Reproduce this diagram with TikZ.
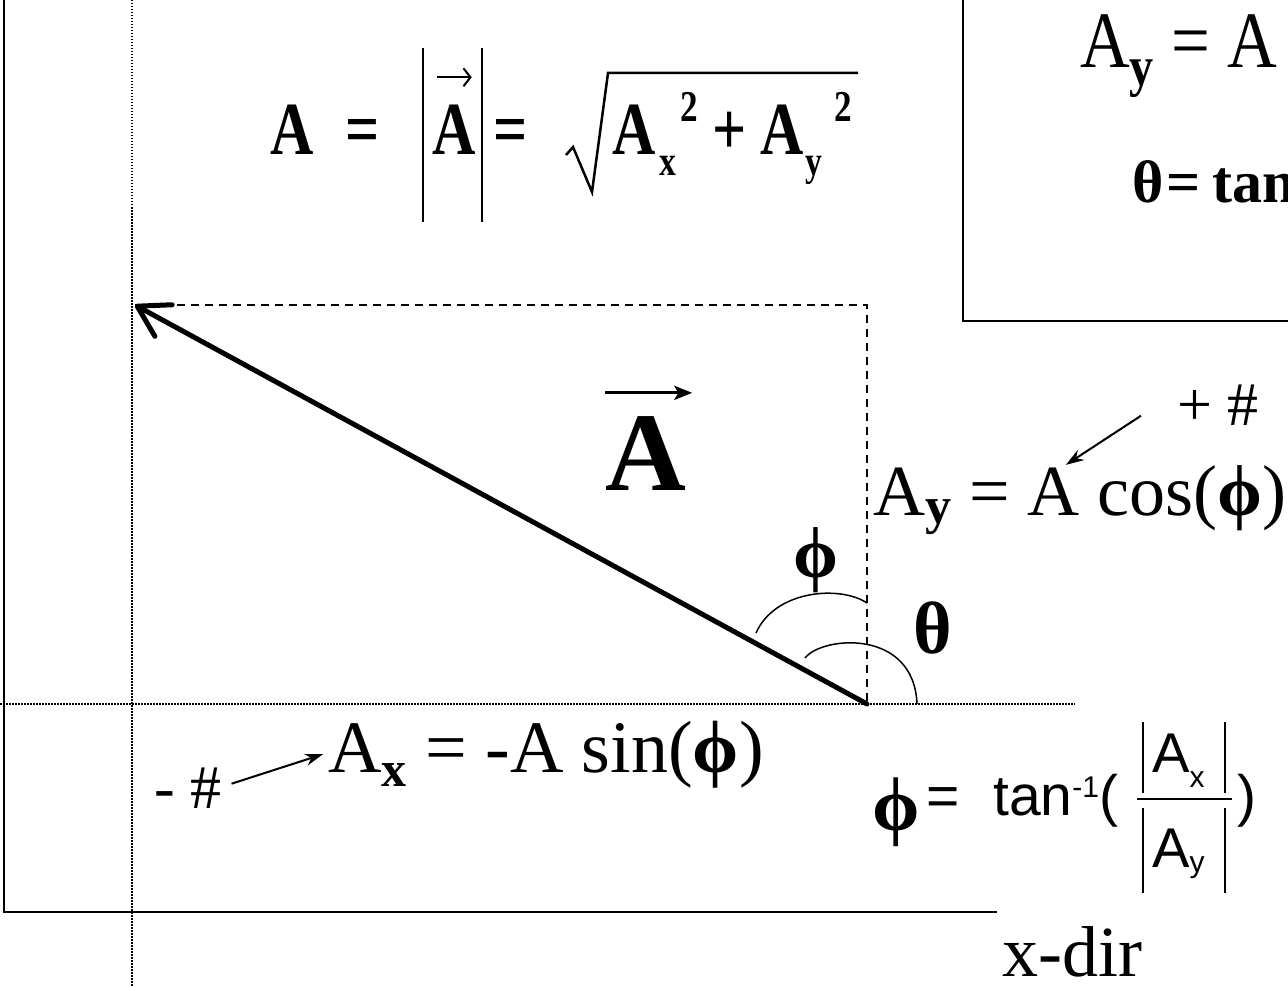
\documentclass[tikz,border=0pt]{standalone}
\usepackage{graphicx}
\usepackage{fontspec}
\setmainfont{Liberation Serif}
\newfontfamily\sansfont{Liberation Sans}
\usetikzlibrary{arrows.meta}

\newcommand\fs[1]{\fontsize{#1}{#1}\selectfont}
\newcommand\idx[3]{\raisebox{#1}{\fs{#2}#3}}
\newcommand\squeeze[1]{\scalebox{.8}[1]{#1}}
\newcommand\phisign{\textbf{ϕ}}

\begin{document}
\begin{tikzpicture}[x=1pt,y=-1pt,>=Stealth,
  axisline/.style={line width=2.5pt},
  guide/.style={line width=1.5pt,dash pattern=on 1.5pt off 1.5pt},
  proj/.style={line width=2pt,dash pattern=on 8pt off 6pt},
  vec/.style={line width=5pt,line cap=round,-{Straight Barb[length=30pt,width=36pt,round]}},
  pointer/.style={line width=2pt,-{Stealth[length=18pt,width=12pt]}},
  anglearc/.style={line width=1.5pt},
  lbl/.style={inner sep=0pt,anchor=base west}]
  % vector A in the second quadrant with its components
  \useasboundingbox (0,0) rectangle (1288,987);
  \clip (0,0) rectangle (1288,987);

  \draw[axisline] (4,0) -- (4,912) -- (997,912);
  \draw[guide] (132,0) -- (132,987);
  \draw[guide] (0,704) -- (1075,704);
  \draw[axisline] (963,0) -- (963,321) -- (1295,321);

  \coordinate (O) at (867,704);
  \coordinate (tip) at (135,305);
  \coordinate (corner) at (867,305);
  \draw[proj] (tip) -- (corner) -- (O);
  \draw[vec] (O) -- (tip);

  \draw[anglearc] (756,633) .. controls (775,590) and (840,585) .. (867,603);
  \draw[anglearc] (805,658) .. controls (822,636) and (914,628) .. (917,704);
  \node[lbl,font=\fs{72}] (philbl) at (793,577) {\phisign};
  \node[lbl,font=\fs{74}\bfseries] (thetalbl) at (913,653) {θ};

  % magnitude
  \node[lbl] (magA) at (270,155) {\squeeze{\fs{75}\bfseries A}};
  \node[lbl] (eqa) at (345,155) {\squeeze{\fs{75}\bfseries =}};
  \draw[line width=2pt] (423,48) -- (423,222);
  \draw[line width=2pt] (482,48) -- (482,222);
  \node[lbl] (absA) at (432,155) {\squeeze{\fs{75}\bfseries A}};
  \draw[line width=2pt,-{Straight Barb[length=7pt,width=18pt]}]
    ([xshift=5pt,yshift=28pt]absA.north west) -- ([xshift=-4pt,yshift=28pt]absA.north east);
  \node[lbl] (eqb) at (493,155) {\squeeze{\fs{75}\bfseries =}};
  \draw[line width=2.5pt] (566,155) -- (573,147) -- (592,192) -- (608,73) -- (858,73);
  \node[lbl] (axsq) at (612,155) {\squeeze{\fs{75}\bfseries A}};
  \node[lbl] (axsub) at (659,176) {\squeeze{\fs{42}\bfseries x}};
  \node[lbl] (axsup) at (680,122) {\squeeze{\fs{44}\bfseries 2}};
  \node[lbl] (plus) at (712,155) {\squeeze{\fs{75}\bfseries +}};
  \node[lbl] (aysq) at (760,155) {\squeeze{\fs{75}\bfseries A}};
  \node[lbl] (aysub) at (805,176) {\squeeze{\fs{42}\bfseries y}};
  \node[lbl] (aysup) at (834,122) {\squeeze{\fs{44}\bfseries 2}};

  % box top right
  \node[lbl] (boxay) at (1080,68) {\scalebox{.86}[1]{\fs{80}A\idx{-.22em}{56}{\bfseries y} = A}};
  \node[lbl,font=\fs{60}\bfseries] (boxtheta) at (1132,203) {θ\hspace{.05em}=\hspace{.2em}tan};

  % vector name
  \node[lbl,font=\fs{112}\bfseries] (vecname) at (605,490) {A};
  \draw[line width=3pt,-{Stealth[length=18pt,width=14pt,inset=4pt]}]
    ([yshift=23pt]vecname.north west) -- ([xshift=6pt,yshift=23pt]vecname.north east);

  % components
  \node[lbl,font=\fs{72}] (compy) at (873,515) {A\idx{-.12em}{52}{\bfseries y} = A cos(\phisign)};
  \node[lbl,font=\fs{62}] (poslbl) at (1177,425) {+ \#};
  \draw[pointer] ([shift={(-36,11)}]poslbl.west) -- ([xshift=-14pt]compy.north);

  \node[lbl,font=\fs{74}] (compx) at (328,772) {A\idx{-.2em}{50}{\bfseries x} = -A sin(\phisign)};
  \node[lbl,font=\fs{62}] (neglbl) at (154,808) {- \#};
  \draw[pointer] ([shift={(10,-4)}]neglbl.east) -- ([xshift=-5pt]compx.west);

  % angle phi
  \node[lbl,font=\fs{76}] (phisym) at (872,830) {\phisign};
  \node[lbl,font=\sansfont\fs{57}] (phieq) at (926,815) {=};
  \node[lbl,font=\sansfont\fs{57}] (phitan) at (993,815) {tan\idx{.3em}{30}{-1}(};
  \node[lbl,font=\sansfont\fs{56}] (numA) at (1152,772) {A\idx{-.27em}{30}{x}};
  \node[lbl,font=\sansfont\fs{56}] (denA) at (1152,867) {A\idx{-.1em}{30}{y}};
  \draw[line width=2pt] (1143,722) -- (1143,793);
  \draw[line width=2pt] (1225,722) -- (1225,793);
  \draw[line width=2pt] (1137,799) -- (1232,799);
  \draw[line width=2pt] (1143,808) -- (1143,893);
  \draw[line width=2pt] (1225,808) -- (1225,893);
  \node[lbl,font=\sansfont\fs{57}] (phiclose) at (1237,815) {)};

  \node[lbl,font=\fs{72}] (xdir) at (1002,976) {x-dir};
\end{tikzpicture}
\end{document}
